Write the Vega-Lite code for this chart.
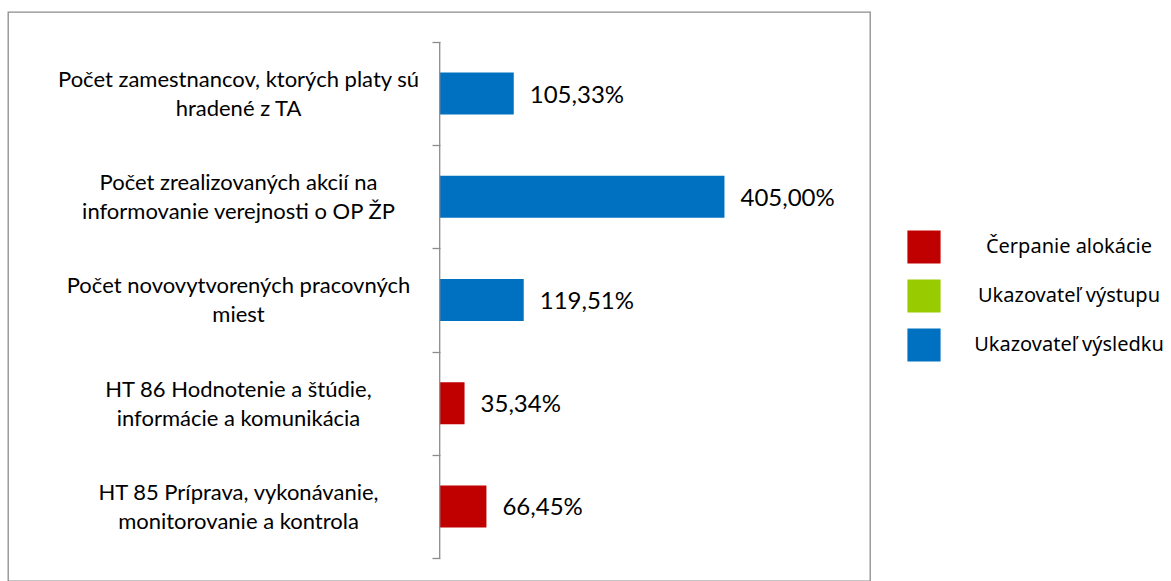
{
  "$schema": "https://vega.github.io/schema/vega-lite/v6.json",
  "width": 862,
  "height": 569,
  "autosize": {"type": "none"},
  "padding": {"left": 8, "top": 12, "right": 301, "bottom": 0},
  "config": {
    "view": {"stroke": "#8c8c8c", "strokeWidth": 1.3},
    "locale": {"number": {"decimal": ",", "thousands": " ", "grouping": [3], "currency": ["", " €"]}}
  },
  "data": {
    "values": [
      {"ukazovatel": "Počet zamestnancov, ktorých platy sú\nhradené z TA", "plnenie": 1.0533, "typ": "Ukazovateľ výsledku"},
      {"ukazovatel": "Počet zrealizovaných akcií na\ninformovanie verejnosti o OP ŽP", "plnenie": 4.05, "typ": "Ukazovateľ výsledku"},
      {"ukazovatel": "Počet novovytvorených pracovných\nmiest", "plnenie": 1.1951, "typ": "Ukazovateľ výsledku"},
      {"ukazovatel": "HT 86 Hodnotenie a štúdie,\ninformácie a komunikácia", "plnenie": 0.3534, "typ": "Čerpanie alokácie"},
      {"ukazovatel": "HT 85 Príprava, vykonávanie,\nmonitorovanie a kontrola", "plnenie": 0.6645, "typ": "Čerpanie alokácie"}
    ]
  },
  "encoding": {
    "y": {
      "field": "ukazovatel",
      "type": "nominal",
      "sort": null,
      "scale": {"paddingInner": 0, "paddingOuter": 0.2568, "align": 0.566},
      "axis": {
        "title": null,
        "orient": "left",
        "offset": -432,
        "domain": false,
        "grid": false,
        "ticks": true,
        "tickBand": "extent",
        "tickSize": 8,
        "tickColor": "#8c8c8c",
        "tickWidth": 1.3,
        "labelExpr": "split(datum.label, '\\n')",
        "labelAlign": "center",
        "labelBaseline": "middle",
        "labelOffset": -14,
        "labelPadding": 194,
        "labelFont": "Lato",
        "labelFontSize": 22,
        "labelColor": "#000000",
        "labelLineHeight": 29,
        "labelLimit": 0
      }
    }
  },
  "layer": [
    {
      "mark": {"type": "bar", "height": {"band": 0.407}},
      "encoding": {
        "x": {"field": "plnenie", "type": "quantitative", "scale": {"domain": [-6.14, 6.12], "nice": false, "zero": false}, "axis": null},
        "x2": {"datum": 0},
        "color": {
          "field": "typ",
          "type": "nominal",
          "scale": {
            "domain": ["Čerpanie alokácie", "Ukazovateľ výstupu", "Ukazovateľ výsledku"],
            "range": ["#C00000", "#99CC00", "#0070C0"]
          },
          "legend": {
            "title": null,
            "orient": "none",
            "legendX": 899,
            "legendY": 218,
            "symbolType": "square",
            "symbolSize": 1100,
            "symbolStrokeWidth": 0,
            "symbolOpacity": 1,
            "labelFont": "Noto Sans",
            "labelFontSize": 20,
            "labelColor": "#000000",
            "labelAlign": "center",
            "labelOffset": 128,
            "rowPadding": 15,
            "padding": 0,
            "labelLimit": 0
          }
        }
      }
    },
    {
      "mark": {"type": "text", "align": "left", "baseline": "middle", "dx": 16, "dy": 2, "font": "Lato", "fontSize": 24, "color": "#000000"},
      "encoding": {
        "x": {"field": "plnenie", "type": "quantitative"},
        "text": {"field": "plnenie", "type": "quantitative", "format": ".2%"}
      }
    },
    {
      "data": {"values": [{}]},
      "mark": {"type": "rule", "color": "#8c8c8c", "strokeWidth": 1.3},
      "encoding": {
        "x": {"datum": 0},
        "y": {"datum": "Počet zamestnancov, ktorých platy sú\nhradené z TA", "bandPosition": 0},
        "y2": {"datum": "HT 85 Príprava, vykonávanie,\nmonitorovanie a kontrola", "bandPosition": 1}
      }
    }
  ]
}
